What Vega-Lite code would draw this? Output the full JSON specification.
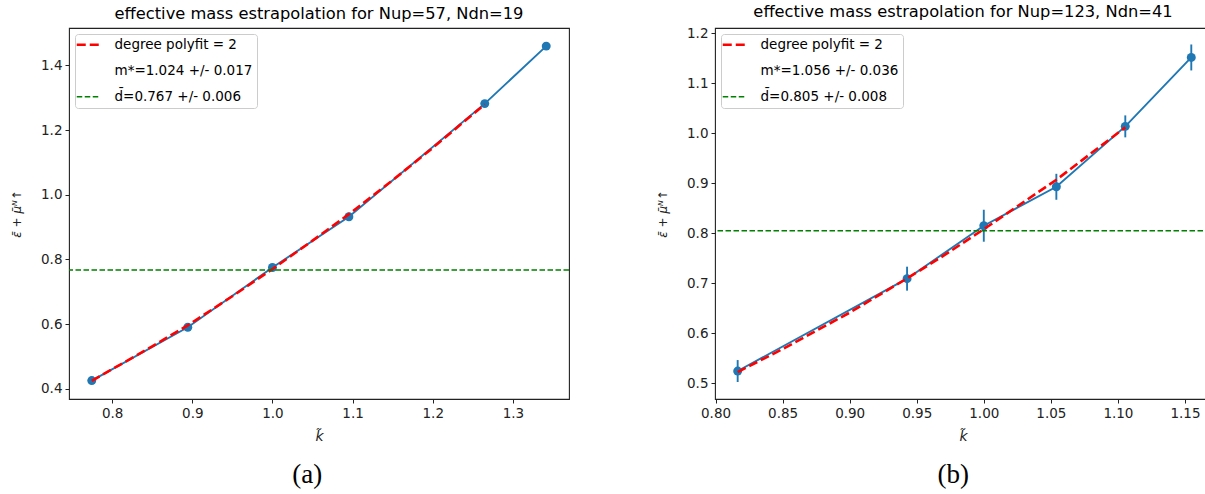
{
  "$schema": "https://vega.github.io/schema/vega-lite/v6.json",
  "padding": {"left": 9, "top": 3, "right": 0, "bottom": 0},
  "background": "white",
  "spacing": 84,
  "datasets": {
    "a_points": [
      {"k": 0.7746, "e": 0.425},
      {"k": 0.8944, "e": 0.590},
      {"k": 1.0, "e": 0.775},
      {"k": 1.0954, "e": 0.932},
      {"k": 1.2649, "e": 1.282},
      {"k": 1.3416, "e": 1.460}
    ],
    "a_fit": [
      {"k": 0.7746, "e": 0.424, "series": "degree polyfit = 2"},
      {"k": 0.85, "e": 0.531, "series": "degree polyfit = 2"},
      {"k": 0.8944, "e": 0.596, "series": "degree polyfit = 2"},
      {"k": 0.95, "e": 0.686, "series": "degree polyfit = 2"},
      {"k": 1.0, "e": 0.770, "series": "degree polyfit = 2"},
      {"k": 1.05, "e": 0.858, "series": "degree polyfit = 2"},
      {"k": 1.0954, "e": 0.940, "series": "degree polyfit = 2"},
      {"k": 1.15, "e": 1.045, "series": "degree polyfit = 2"},
      {"k": 1.2, "e": 1.145, "series": "degree polyfit = 2"},
      {"k": 1.2649, "e": 1.280, "series": "degree polyfit = 2"}
    ],
    "a_d": [
      {"e": 0.767, "series": "d̄=0.767 +/- 0.006"}
    ],
    "b_points": [
      {"k": 0.8165, "e": 0.524, "err": 0.022},
      {"k": 0.9428, "e": 0.709, "err": 0.024},
      {"k": 1.0, "e": 0.815, "err": 0.032},
      {"k": 1.0541, "e": 0.893, "err": 0.026},
      {"k": 1.1055, "e": 1.014, "err": 0.022},
      {"k": 1.1547, "e": 1.152, "err": 0.026}
    ],
    "b_fit": [
      {"k": 0.8165, "e": 0.522, "series": "degree polyfit = 2"},
      {"k": 0.85, "e": 0.568, "series": "degree polyfit = 2"},
      {"k": 0.9, "e": 0.641, "series": "degree polyfit = 2"},
      {"k": 0.9428, "e": 0.7095, "series": "degree polyfit = 2"},
      {"k": 0.97, "e": 0.755, "series": "degree polyfit = 2"},
      {"k": 1.0, "e": 0.808, "series": "degree polyfit = 2"},
      {"k": 1.03, "e": 0.863, "series": "degree polyfit = 2"},
      {"k": 1.0541, "e": 0.907, "series": "degree polyfit = 2"},
      {"k": 1.08, "e": 0.960, "series": "degree polyfit = 2"},
      {"k": 1.1055, "e": 1.012, "series": "degree polyfit = 2"}
    ],
    "b_d": [
      {"e": 0.805, "series": "d̄=0.805 +/- 0.008"}
    ]
  },
  "hconcat": [
    {
      "title": {"text": "(a)", "orient": "bottom", "font": "Liberation Serif", "fontSize": 27, "fontWeight": "normal", "offset": 18, "dx": 17, "color": "#000"},
      "vconcat": [
        {
          "width": 500,
          "height": 371,
          "title": {"text": "effective mass estrapolation for Nup=57, Ndn=19"},
          "layer": [
            {
              "data": {"name": "a_points"},
              "mark": {"type": "line", "color": "#1f77b4", "strokeWidth": 1.9},
              "encoding": {
                "x": {"field": "k", "type": "quantitative", "scale": {"domain": [0.7462, 1.37], "nice": false, "zero": false}, "axis": {"title": "k̃", "values": [0.8, 0.9, 1.0, 1.1, 1.2, 1.3], "format": ".1f"}},
                "y": {"field": "e", "type": "quantitative", "scale": {"domain": [0.368, 1.516], "nice": false, "zero": false}, "axis": {"title": "ε̄ + μ̄ᴺ↑", "values": [0.4, 0.6, 0.8, 1.0, 1.2, 1.4], "format": ".1f"}}
              }
            },
            {
              "data": {"name": "a_points"},
              "mark": {"type": "point", "filled": true, "shape": "circle", "size": 80, "color": "#1f77b4", "opacity": 1},
              "encoding": {
                "x": {"field": "k", "type": "quantitative"},
                "y": {"field": "e", "type": "quantitative"}
              }
            },
            {
              "data": {"name": "a_fit"},
              "mark": {"type": "line", "strokeWidth": 2.6},
              "encoding": {
                "x": {"field": "k", "type": "quantitative"},
                "y": {"field": "e", "type": "quantitative"},
                "color": {"field": "series", "type": "nominal", "scale": {"domain": ["degree polyfit = 2", "m*=1.024 +/- 0.017", "d̄=0.767 +/- 0.006"], "range": ["#ff0000", "rgba(0,0,0,0)", "#008000"]}, "legend": {"title": null, "encode": {"symbols": {"update": {"strokeWidth": {"signal": "datum.value === 'degree polyfit = 2' ? 2.6 : 1.6"}}}}}},
                "strokeDash": {"field": "series", "type": "nominal", "scale": {"domain": ["degree polyfit = 2", "m*=1.024 +/- 0.017", "d̄=0.767 +/- 0.006"], "range": [[9, 4], [1, 0], [5.5, 2.5]]}, "legend": {"title": null, "encode": {"symbols": {"update": {"strokeWidth": {"signal": "datum.value === 'degree polyfit = 2' ? 2.6 : 1.6"}}}}}}
              }
            },
            {
              "data": {"name": "a_d"},
              "mark": {"type": "rule", "strokeWidth": 1.6},
              "encoding": {
                "y": {"field": "e", "type": "quantitative"},
                "color": {"field": "series", "type": "nominal", "legend": {"title": null}},
                "strokeDash": {"field": "series", "type": "nominal", "legend": {"title": null}}
              }
            }
          ]
        }
      ]
    },
    {
      "title": {"text": "(b)", "orient": "bottom", "font": "Liberation Serif", "fontSize": 27, "fontWeight": "normal", "offset": 18, "dx": 19, "color": "#000"},
      "vconcat": [
        {
          "width": 496,
          "height": 371,
          "title": {"text": "effective mass estrapolation for Nup=123, Ndn=41"},
          "layer": [
            {
              "data": {"name": "b_points"},
              "mark": {"type": "line", "color": "#1f77b4", "strokeWidth": 1.9},
              "encoding": {
                "x": {"field": "k", "type": "quantitative", "scale": {"domain": [0.7996, 1.1694], "nice": false, "zero": false}, "axis": {"title": "k̃", "values": [0.8, 0.85, 0.9, 0.95, 1.0, 1.05, 1.1, 1.15], "format": ".2f"}},
                "y": {"field": "e", "type": "quantitative", "scale": {"domain": [0.468, 1.211], "nice": false, "zero": false}, "axis": {"title": "ε̄ + μ̄ᴺ↑", "values": [0.5, 0.6, 0.7, 0.8, 0.9, 1.0, 1.1, 1.2], "format": ".1f"}}
              }
            },
            {
              "data": {"name": "b_points"},
              "mark": {"type": "errorbar", "color": "#1f77b4", "thickness": 1.9},
              "encoding": {
                "x": {"field": "k", "type": "quantitative"},
                "y": {"field": "e", "type": "quantitative", "title": "ε̄ + μ̄ᴺ↑"},
                "yError": {"field": "err"}
              }
            },
            {
              "data": {"name": "b_points"},
              "mark": {"type": "point", "filled": true, "shape": "circle", "size": 80, "color": "#1f77b4", "opacity": 1},
              "encoding": {
                "x": {"field": "k", "type": "quantitative"},
                "y": {"field": "e", "type": "quantitative"}
              }
            },
            {
              "data": {"name": "b_fit"},
              "mark": {"type": "line", "strokeWidth": 2.6},
              "encoding": {
                "x": {"field": "k", "type": "quantitative"},
                "y": {"field": "e", "type": "quantitative"},
                "color": {"field": "series", "type": "nominal", "scale": {"domain": ["degree polyfit = 2", "m*=1.056 +/- 0.036", "d̄=0.805 +/- 0.008"], "range": ["#ff0000", "rgba(0,0,0,0)", "#008000"]}, "legend": {"title": null, "encode": {"symbols": {"update": {"strokeWidth": {"signal": "datum.value === 'degree polyfit = 2' ? 2.6 : 1.6"}}}}}},
                "strokeDash": {"field": "series", "type": "nominal", "scale": {"domain": ["degree polyfit = 2", "m*=1.056 +/- 0.036", "d̄=0.805 +/- 0.008"], "range": [[9, 4], [1, 0], [5.5, 2.5]]}, "legend": {"title": null, "encode": {"symbols": {"update": {"strokeWidth": {"signal": "datum.value === 'degree polyfit = 2' ? 2.6 : 1.6"}}}}}}
              }
            },
            {
              "data": {"name": "b_d"},
              "mark": {"type": "rule", "strokeWidth": 1.6},
              "encoding": {
                "y": {"field": "e", "type": "quantitative"},
                "color": {"field": "series", "type": "nominal", "legend": {"title": null}},
                "strokeDash": {"field": "series", "type": "nominal", "legend": {"title": null}}
              }
            }
          ]
        }
      ]
    }
  ],
  "resolve": {
    "scale": {"x": "independent", "y": "independent", "color": "independent", "strokeDash": "independent"},
    "legend": {"color": "independent", "strokeDash": "independent"}
  },
  "config": {
    "view": {"stroke": "#222", "strokeWidth": 1.1},
    "title": {"font": "DejaVu Sans", "fontSize": 16.3, "fontWeight": "normal", "color": "#000", "anchor": "middle", "offset": 6},
    "axis": {
      "grid": false,
      "domain": false,
      "ticks": true,
      "tickColor": "#222",
      "tickSize": 4,
      "tickWidth": 1,
      "labelFont": "DejaVu Sans",
      "labelFontSize": 13.5,
      "labelColor": "#222",
      "labelPadding": 3,
      "labelFlush": false,
      "labelOverlap": false,
      "titleFont": "DejaVu Sans",
      "titleFontWeight": "normal",
      "titleFontStyle": "italic",
      "titleColor": "#222"
    },
    "axisX": {"titleFontSize": 14, "titlePadding": 10},
    "axisY": {"titleFontSize": 12, "titlePadding": 17},
    "legend": {
      "orient": "top-left",
      "offset": 6,
      "padding": 4,
      "fillColor": "rgba(255,255,255,0.8)",
      "strokeColor": "#cccccc",
      "cornerRadius": 3,
      "symbolType": "stroke",
      "symbolSize": 576,
      "symbolOffset": 3,
      "labelFont": "DejaVu Sans",
      "labelFontSize": 13.5,
      "labelColor": "#000",
      "labelOffset": 19,
      "labelLimit": 300,
      "rowPadding": 11
    }
  }
}
